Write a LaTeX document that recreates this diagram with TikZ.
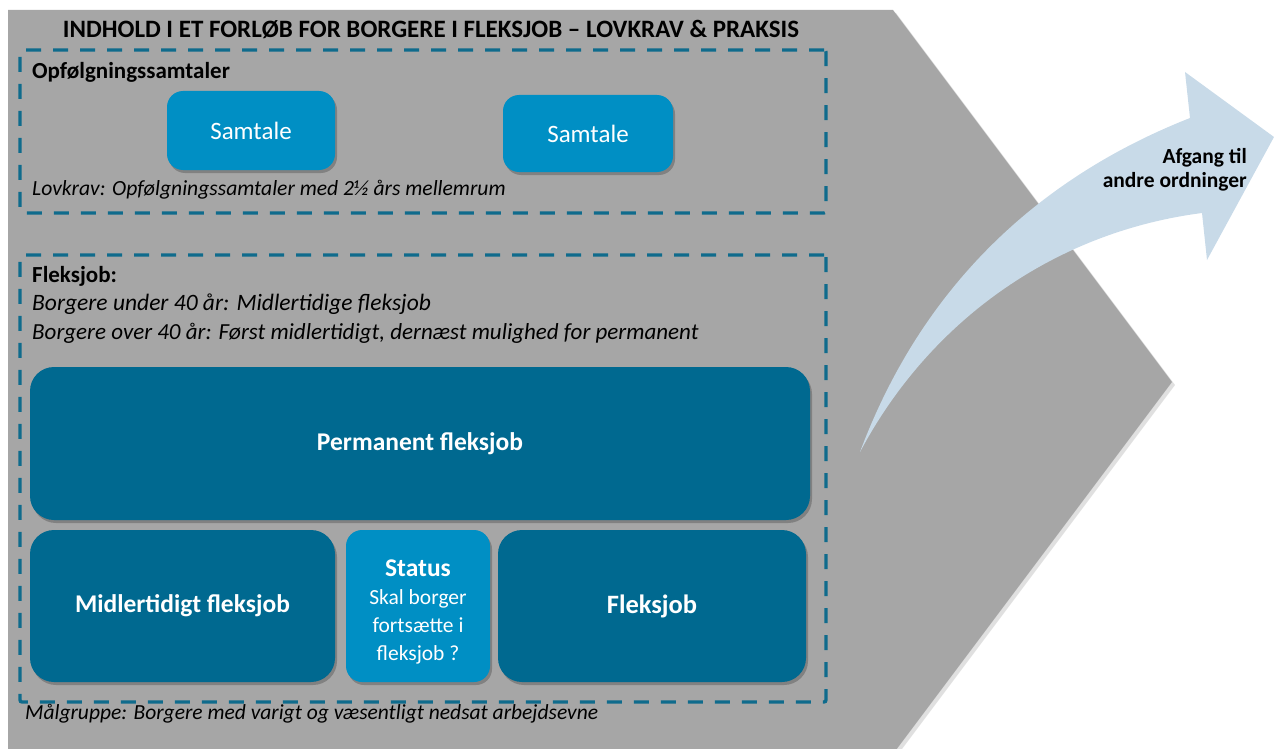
\documentclass[tikz,border=0pt]{standalone}
\usepackage{fontspec}
\setmainfont{Carlito}
\usetikzlibrary{shadows}
\definecolor{chev}{HTML}{A6A6A6}
\definecolor{dashc}{HTML}{0F6B8C}
\definecolor{lightbox}{HTML}{008FC4}
\definecolor{darkbox}{HTML}{006990}
\definecolor{arrowc}{HTML}{C8DAE8}
\begin{document}
\begin{tikzpicture}[x=1pt,y=-1pt,
  dashbox/.style={draw=dashc,line width=3.3pt,dash pattern=on 15pt off 12pt,inner sep=0pt,rounded corners=2pt},
  boxbase/.style={rounded corners=16pt,inner sep=2pt,text=white,align=center,
     drop shadow={shadow xshift=2pt,shadow yshift=-3pt,opacity=0.22,fill=black}},
  lbox/.style={boxbase,fill=lightbox},
  dbox/.style={boxbase,fill=darkbox,rounded corners=24pt},
  boxtxt/.style={font=\fontsize{25.5}{30}\selectfont\bfseries},
  lbl/.style={anchor=base west,inner sep=0pt},
  blbl/.style={lbl,font=\fontsize{23}{27}\selectfont\bfseries},
  ilbl/.style={lbl,font=\fontsize{23}{27}\selectfont\itshape}]
\useasboundingbox (0,0) rectangle (1274,749);
\clip (0,0) rectangle (1274,749);
% chevron background with soft shadow
\fill[black,opacity=0.12] (11,13) -- (896,13) -- (1175,385) -- (896,757) -- (11,757) -- cycle;
\fill[chev] (8,10) -- (893,10) -- (1172,382) -- (893,754) -- (8,754) -- cycle;
% curved arrow
\fill[arrowc] (860,452) .. controls (915,305) and (1020,185) .. (1190,118)
   -- (1185,72) -- (1274,137) -- (1207,260) -- (1202,213)
   .. controls (1055,232) and (930,320) .. (860,452) -- cycle;
\node[anchor=base east,inner sep=0pt,font=\fontsize{21.5}{24}\selectfont\bfseries] (afg1) at (1247,164) {Afgang til};
\node[anchor=base east,inner sep=0pt,font=\fontsize{21.5}{24}\selectfont\bfseries] (afg2) at (1247,187) {andre ordninger};
% title
\node[anchor=base,inner sep=0pt,font=\fontsize{25}{30}\selectfont\bfseries] (title) at (431,38) {INDHOLD I ET FORLØB FOR BORGERE I FLEKSJOB – LOVKRAV \& PRAKSIS};
% group 1
\node[dashbox,minimum width=806pt,minimum height=163pt] (grp1) at (423,131.5) {};
\node[blbl] (opf) at (32,79) {Opfølgningssamtaler};
\node[lbox,minimum width=168pt,minimum height=79pt,font=\fontsize{25}{30}\selectfont] (sam1) at (251,130.5) {Samtale};
\node[lbox,minimum width=170pt,minimum height=77pt,font=\fontsize{25}{30}\selectfont] (sam2) at (588,133.5) {Samtale};
\node[lbl,font=\fontsize{21.6}{26}\selectfont\itshape] (lovkrav) at (32,195) {Lovkrav: Opfølgningssamtaler med 2½ års mellemrum};
% group 2
\node[dashbox,minimum width=806pt,minimum height=447pt] (grp2) at (423,478.5) {};
\node[blbl] (fleks) at (32,282) {Fleksjob:};
\node[ilbl,font=\fontsize{23.5}{27}\selectfont\itshape] (under) at (32,310) {Borgere under 40 år: Midlertidige fleksjob};
\node[ilbl] (over) at (32,339) {Borgere over 40 år: Først midlertidigt, dernæst mulighed for permanent};
\node[dbox,minimum width=780pt,minimum height=153pt,boxtxt] (perm) at (420,443.5) {Permanent fleksjob};
\node[dbox,minimum width=305pt,minimum height=152pt,boxtxt] (midl) at (182.5,606) {Midlertidigt fleksjob};
\node[lbox,minimum width=144pt,minimum height=152pt] (status) at (418,606) {};
\node[align=center,text=white,inner sep=0pt,font=\fontsize{21.5}{28}\selectfont] (statustxt) at ([yshift=-6pt]status.center) {{\fontsize{25.5}{28}\selectfont\bfseries Status}\\Skal borger\\fortsætte i\\fleksjob ?};
\node[dbox,minimum width=308pt,minimum height=152pt,font=\fontsize{26.5}{30}\selectfont\bfseries] (fj) at (652,606) {Fleksjob};
% footer
\node[lbl,font=\fontsize{21.5}{26}\selectfont\itshape] (maal) at (25,719) {Målgruppe: Borgere med varigt og væsentligt nedsat arbejdsevne};
\end{tikzpicture}
\end{document}
